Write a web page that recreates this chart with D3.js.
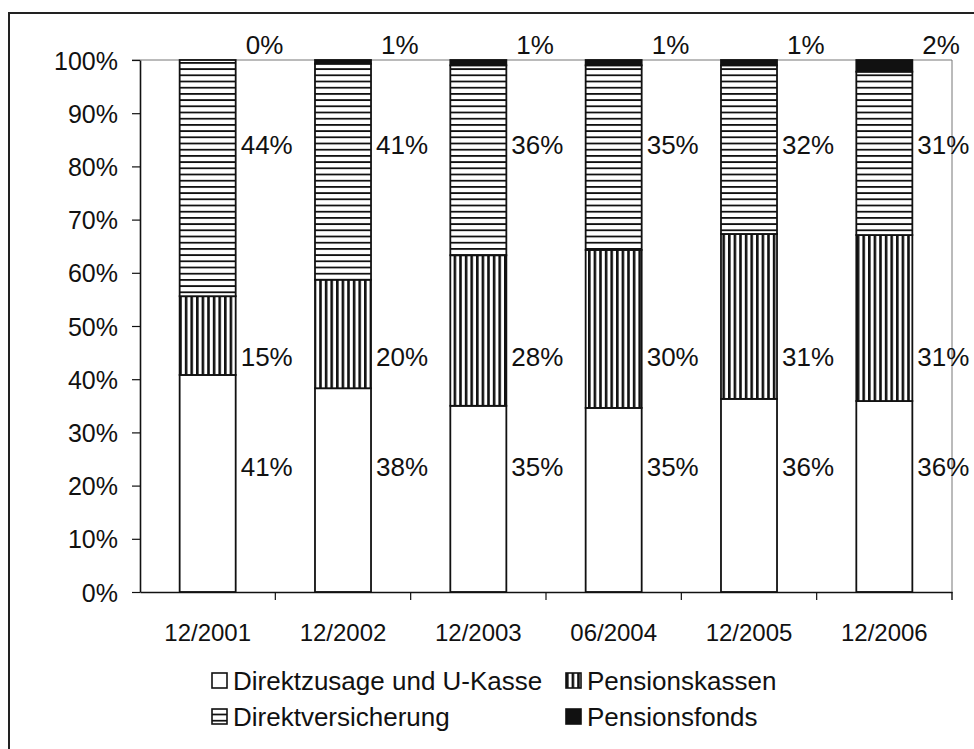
<!DOCTYPE html>
<html>
<head>
<meta charset="utf-8">
<script src="https://cdn.jsdelivr.net/npm/d3@7"></script>
<style>
  html, body { margin: 0; padding: 0; background: #fff; }
  svg { display: block; font-family: "Liberation Sans", Arial, sans-serif; }
</style>
</head>
<body>
<div id="chart"></div>
<script>
// Stichtage und Anteile der Durchführungswege (in %)
const periods = ['12/2001', '12/2002', '12/2003', '06/2004', '12/2005', '12/2006'];
const direktzusage = [40.8, 38.3, 35.0, 34.6, 36.3, 35.9];
const pensionskassen = [14.8, 20.4, 28.3, 29.7, 31.0, 31.2];
const direktversicherung = [44.4, 40.6, 35.7, 34.7, 31.7, 30.7];
const pensionsfonds = [0.0, 0.7, 1.0, 1.0, 1.0, 2.2];
const yTicks = [0, 10, 20, 30, 40, 50, 60, 70, 80, 90, 100];

const seriesNames = ['Direktzusage und U-Kasse', 'Pensionskassen', 'Direktversicherung', 'Pensionsfonds'];
const seriesValues = [direktzusage, pensionskassen, direktversicherung, pensionsfonds];

const width = 974, height = 749;
const plot = { left: 140, right: 952, top: 60, bottom: 592 };

const svg = d3.select('#chart').append('svg')
    .attr('width', width)
    .attr('height', height);

// hatch patterns
const defs = svg.append('defs');
const hp = defs.append('pattern')
    .attr('id', 'hatchH')
    .attr('patternUnits', 'userSpaceOnUse')
    .attr('width', 8).attr('height', 6.2);
hp.append('rect').attr('width', 8).attr('height', 6.2).attr('fill', '#fff');
hp.append('rect').attr('y', 0).attr('width', 8).attr('height', 1.8).attr('fill', '#111');

const vp = defs.append('pattern')
    .attr('id', 'hatchV')
    .attr('patternUnits', 'userSpaceOnUse')
    .attr('width', 5.6).attr('height', 8);
vp.append('rect').attr('width', 5.6).attr('height', 8).attr('fill', '#fff');
vp.append('rect').attr('x', 0).attr('width', 2.6).attr('height', 8).attr('fill', '#111');

const fills = ['#fff', 'url(#hatchV)', 'url(#hatchH)', '#111'];

// outer frame (runs off the right and bottom edge)
svg.append('rect')
    .attr('x', 9).attr('y', 13)
    .attr('width', 1000).attr('height', 800)
    .attr('fill', 'none')
    .attr('stroke', '#222')
    .attr('stroke-width', 2);

const x = d3.scaleBand()
    .domain(periods)
    .range([plot.left, plot.right])
    .paddingInner(0.586)
    .paddingOuter(0.293);

const y = d3.scaleLinear()
    .domain([0, 100])
    .range([plot.bottom, plot.top]);

// plot area border (top and right, thin)
svg.append('path')
    .attr('d', `M${plot.left - 8},${plot.top}H${plot.right}V${plot.bottom + 8}`)
    .attr('fill', 'none')
    .attr('stroke', '#777')
    .attr('stroke-width', 1);

// stacked data
const rows = periods.map((p, i) => {
    const r = { period: p };
    seriesNames.forEach((s, k) => { r[s] = seriesValues[k][i]; });
    return r;
});
const stacked = d3.stack().keys(seriesNames)(rows);

const layers = svg.append('g').selectAll('g')
    .data(stacked)
    .join('g')
    .attr('fill', (d, i) => fills[i]);

layers.selectAll('rect')
    .data(d => d.filter(v => v[1] - v[0] > 0))
    .join('rect')
    .attr('x', d => x(d.data.period))
    .attr('y', d => y(d[1]))
    .attr('width', x.bandwidth())
    .attr('height', d => y(d[0]) - y(d[1]))
    .attr('stroke', '#111')
    .attr('stroke-width', 1.8);

// y axis
const yAxis = svg.append('g')
    .attr('transform', `translate(${plot.left},0)`)
    .call(d3.axisLeft(y).tickValues(yTicks).tickFormat(d => d + '%').tickSize(8).tickSizeOuter(0));
yAxis.select('.domain').attr('stroke', '#111').attr('stroke-width', 1.6);
yAxis.selectAll('.tick line').attr('stroke', '#111').attr('stroke-width', 1.2);
yAxis.selectAll('.tick text')
    .attr('x', -22)
    .attr('dy', '0.36em')
    .attr('fill', '#111')
    .style('font-size', '25px');

// x axis with ticks between categories
const xAxis = svg.append('g')
    .attr('transform', `translate(0,${plot.bottom})`)
    .call(d3.axisBottom(x).tickSize(0).tickSizeOuter(0));
xAxis.select('.domain').attr('stroke', '#111').attr('stroke-width', 1.6);
xAxis.selectAll('.tick text')
    .attr('y', 0)
    .attr('dy', 49)
    .attr('fill', '#111')
    .style('font-size', '24px');
xAxis.selectAll('.sep')
    .data(periods)
    .join('line')
    .attr('class', 'sep')
    .attr('x1', d => x(d) + x.bandwidth() / 2 + x.step() / 2)
    .attr('x2', d => x(d) + x.bandwidth() / 2 + x.step() / 2)
    .attr('y1', 0).attr('y2', 8)
    .attr('stroke', '#111')
    .attr('stroke-width', 1.2);

// value labels, placed right of the bars at a fixed height per series
const labelLevel = [23.5, 44.2, 84, 102.8];
const labelGap = [5, 5, 5, 10];
stacked.forEach((layer, k) => {
    svg.append('g').selectAll('text')
        .data(layer)
        .join('text')
        .attr('x', d => x(d.data.period) + x.bandwidth() + labelGap[k])
        .attr('y', y(labelLevel[k]))
        .attr('dy', '0.36em')
        .attr('fill', '#111')
        .style('font-size', '26px')
        .text(d => Math.round(d[1] - d[0]) + '%');
});

// legend
const legendCols = [212, 566];
const legendRows = [690, 726];
const legendOrder = [0, 1, 2, 3];
const legend = svg.append('g').selectAll('g')
    .data(legendOrder)
    .join('g')
    .attr('transform', (d, i) => `translate(${legendCols[i % 2]},${legendRows[Math.floor(i / 2)]})`);
legend.append('rect')
    .attr('x', 0).attr('y', -17)
    .attr('width', 15).attr('height', 15)
    .attr('fill', d => fills[d])
    .attr('stroke', '#111')
    .attr('stroke-width', 1.6);
legend.append('text')
    .attr('x', 21)
    .attr('y', 0)
    .attr('fill', '#111')
    .style('font-size', '26px')
    .text(d => seriesNames[d]);
</script>
</body>
</html>
